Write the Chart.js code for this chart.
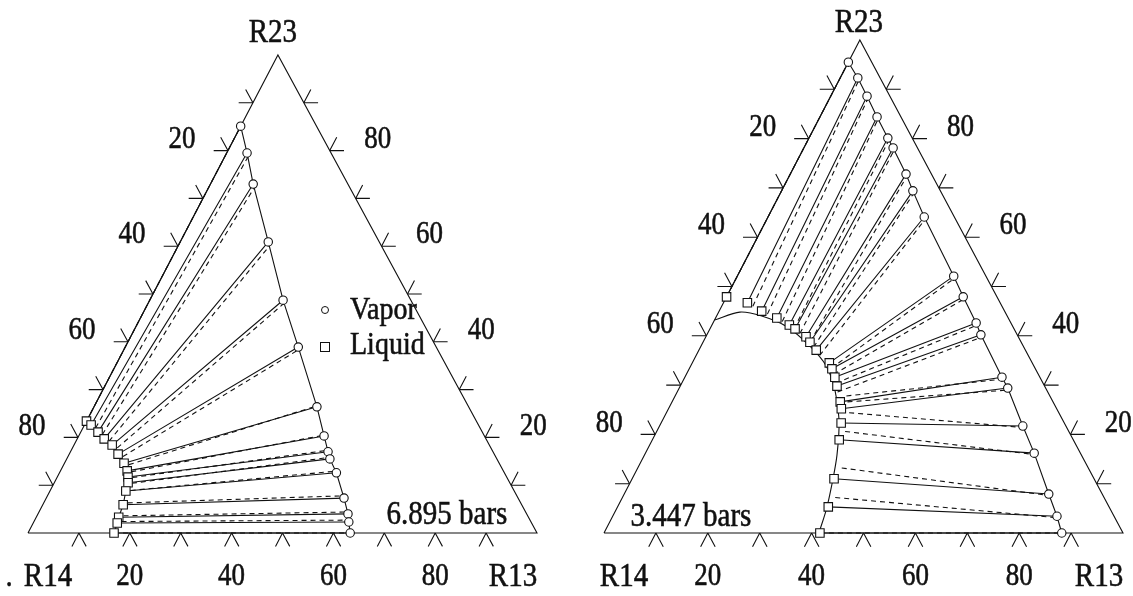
<!DOCTYPE html>
<html>
<head>
<meta charset="utf-8">
<script src="https://cdn.jsdelivr.net/npm/chart.js@4.4.1/dist/chart.umd.min.js"></script>
<style>
  body { margin: 0; background: #fff; }
  .panel { position: absolute; top: 0; height: 596px; }
</style>
</head>
<body>
<div class="panel" style="left:0;width:566px"><canvas id="highP" width="566" height="596"></canvas></div>
<div class="panel" style="left:566px;width:567px"><canvas id="lowP" width="567" height="596"></canvas></div>
<script>
// every composition is [mole % R13, mole % R23]; R14 is the remainder
const tickMarks = [10, 20, 30, 40, 50, 60, 70, 80, 90];
const tickLabels = [20, 40, 60, 80];

// 6.895 bars
const vaporHi = [[0, 85.1], [4.0, 79.5], [8.4, 73.0], [17.3, 60.9], [26.2, 48.7], [34.0, 38.9],
  [43.8, 26.4], [48.2, 20.3], [50.6, 17.0], [51.7, 15.5], [54.4, 12.6], [58.5, 7.3],
  [60.9, 4.0], [61.9, 2.3], [63.3, 0]];
const liquidHi = [[0, 23.4], [1.3, 22.6], [3.4, 21.1], [5.3, 19.7], [7.5, 18.4], [9.6, 16.5],
  [11.7, 14.6], [13.1, 13.0], [13.9, 11.7], [14.5, 10.5], [14.9, 8.8], [15.8, 5.9],
  [16.2, 3.3], [16.5, 2.1], [16.9, 0]];
const vaporHiCalc = [[0, 85.1], [4.6, 79.0], [9.0, 72.4], [18.0, 60.2], [26.8, 48.2], [34.5, 38.5],
  [44.2, 26.8], [48.6, 20.6], [50.9, 17.4], [52.0, 15.9], [54.7, 13.0], [58.7, 7.8],
  [61.1, 4.4], [62.1, 2.7], [63.3, 0]];
const liquidHiCalc = [[0, 23.4], [2.5, 22.0], [4.5, 20.6], [6.5, 19.2], [8.8, 17.8], [10.8, 16.0],
  [12.8, 14.3], [14.0, 12.8], [14.8, 11.6], [15.3, 10.4], [15.8, 8.9], [16.5, 6.3],
  [17.0, 3.6], [17.2, 2.4], [16.9, 0]];

// 3.447 bars
const vaporLo = [[0, 95.5], [3.4, 92.3], [7.0, 88.6], [11.0, 84.4], [15.2, 80.1], [17.2, 78.1],
  [22.3, 72.8], [25.3, 69.4], [30.1, 64.1], [41.7, 52.1], [45.6, 47.9], [50.7, 42.6],
  [52.8, 40.2], [61.1, 31.6], [63.3, 29.4], [70.0, 21.7], [74.9, 16.2], [81.8, 7.9],
  [85.6, 3.4], [88.2, 0]];
const liquidLo = [[0, 47.9], [4.6, 46.7], [8.2, 45.0], [11.8, 43.6], [14.9, 42.2], [16.4, 41.4],
  [19.3, 39.8], [20.6, 38.7], [22.6, 37.1], [26.4, 34.5], [27.5, 33.3], [28.9, 31.6],
  [30.2, 29.8], [32.4, 26.6], [33.3, 25.2], [34.7, 22.3], [36.0, 18.9], [38.9, 11.0],
  [40.6, 5.3], [41.6, 0]];
const vaporLoCalc = [[0, 95.5], [3.8, 92.0], [7.4, 88.3], [11.4, 84.0], [15.6, 79.7], [17.6, 77.7],
  [22.7, 72.4], [25.7, 69.0], [30.5, 63.6], [42.0, 51.6], [45.9, 47.4], [51.0, 42.1],
  [53.1, 39.7], [61.4, 31.2], [63.6, 29.0], [70.2, 21.4], [75.1, 15.9], [82.0, 7.6],
  [85.8, 3.1], [88.2, 0]];
const liquidLoCalc = [[0, 47.9], [6.0, 46.0], [9.6, 44.4], [13.2, 42.9], [16.2, 41.4], [17.8, 40.5],
  [20.6, 38.8], [21.8, 37.7], [23.8, 36.0], [27.3, 33.4], [28.4, 32.2], [29.7, 30.4],
  [30.9, 28.6], [33.0, 27.8], [33.8, 26.6], [35.2, 24.4], [36.3, 20.6], [39.3, 13.2],
  [41.0, 7.2], [41.6, 0]];
const bubbleLo = [[0, 43.2], [4.1, 44.8], [8.7, 44.0], [14.7, 41.8], [21.0, 37.9], [26.1, 33.9],
  [30.2, 29.0], [34.0, 22.9], [37.1, 15.8], [39.1, 9.7], [40.5, 4.7], [41.4, 0]];

const INK = "#111";
const TICK = 2.8; // tick length, in mole %

function drawText(ctx, text, x, y, size, align) {
  ctx.save();
  ctx.translate(x, y);
  ctx.scale(1, 1.15);
  ctx.font = size + "px 'Liberation Serif', 'Times New Roman', serif";
  ctx.textAlign = align || "center";
  ctx.textBaseline = "middle";
  ctx.fillStyle = INK;
  ctx.strokeStyle = INK;
  ctx.lineWidth = 0.5;
  ctx.fillText(text, 0, 0);
  ctx.strokeText(text, 0, 0);
  ctx.restore();
}

function makeTernary(id, cfg) {
  const a = cfg.apex; // where the R23 corner sits along the base
  const xy = p => ({ x: (p[0] + a * p[1]) / 100, y: p[1] / 100 });
  const gap = { x: null, y: null };
  const pairs = (from, to) => from.flatMap((p, i) => [xy(p), xy(to[i]), gap]);

  const ticks = [];
  tickMarks.forEach(v => {
    ticks.push(xy([v, 0]), xy([v, -TICK]), gap, xy([v, 0]), xy([v + TICK, -TICK]), gap);
    ticks.push(xy([0, v]), xy([-TICK, v]), gap, xy([0, v]), xy([-TICK, v + TICK]), gap);
    ticks.push(xy([100 - v, v]), xy([100 - v + TICK, v]), gap, xy([100 - v, v]), xy([100 - v, v + TICK]), gap);
  });

  const line = (data, extra) => Object.assign({
    data, showLine: true, borderColor: INK, borderWidth: 1.1, pointRadius: 0, clip: false, order: 2
  }, extra || {});
  const marker = (data, style, r) => ({
    data, showLine: false, pointStyle: style, pointRadius: r, pointBackgroundColor: "#fff",
    pointBorderColor: INK, pointBorderWidth: 1.1, clip: false, order: 0
  });

  const datasets = [
    line([[0, 0], [100, 0], [0, 100], [0, 0]].map(xy)),
    line(ticks),
    line(pairs(cfg.liquid, cfg.vapor)),
    line(pairs(cfg.liquidCalc, cfg.vaporCalc), { borderDash: [5, 4] }),
    line(cfg.vapor.map(xy)),
    line(cfg.bubble.map(xy), { tension: cfg.tension }),
    marker(cfg.vapor.map(xy), "circle", 4.2),
    marker(cfg.liquid.map(xy), "rect", 6)
  ];

  const labels = {
    id: "ternaryLabels",
    afterDatasetsDraw(chart) {
      const { ctx, scales } = chart;
      const px = p => { const q = xy(p); return [scales.x.getPixelForValue(q.x), scales.y.getPixelForValue(q.y)]; };
      const put = (p, dx, dy, text, size) => { const [x, y] = px(p); drawText(ctx, text, x + dx, y + dy, size || 27); };

      tickLabels.forEach(v => {
        put([v, 0], 0, 44, String(v));          // R13 along the base
        put([0, 100 - v], -46, -11, String(v)); // R14 on the left side
        put([100 - v, v], 48, -11, String(v));  // R23 on the right side
      });
      put([0, 0], 20, 44, "R14", 29);
      put([100, 0], -24, 44, "R13", 29);
      put([0, 100], cfg.topDx, cfg.topDy, "R23", 29);

      const n = cfg.note;
      drawText(ctx, n.text, n.x, n.y, 29);
      (cfg.extra || []).forEach(t => drawText(ctx, t.text, t.x, t.y, 27));

      const lg = cfg.legend;
      if (lg) {
        ctx.save();
        ctx.strokeStyle = INK;
        ctx.lineWidth = 1;
        ctx.beginPath();
        ctx.arc(lg.x, lg.y, 3.5, 0, Math.PI * 2);
        ctx.stroke();
        ctx.strokeRect(lg.x - 4.5, lg.y + lg.dy - 4.5, 9, 9);
        ctx.restore();
        drawText(ctx, "Vapor", lg.x + 25, lg.y + 1, 28, "left");
        drawText(ctx, "Liquid", lg.x + 25, lg.y + lg.dy - 1, 28, "left");
      }
    }
  };

  return new Chart(document.getElementById(id), {
    type: "scatter",
    data: { datasets },
    options: {
      responsive: false,
      animation: false,
      events: [],
      layout: { padding: cfg.padding },
      plugins: { legend: { display: false }, tooltip: { enabled: false } },
      scales: {
        x: { type: "linear", min: 0, max: 1, display: false },
        y: { type: "linear", min: 0, max: 1, display: false }
      }
    },
    plugins: [labels]
  });
}

makeTernary("highP", {
  apex: 0.491,
  padding: { left: 28, right: 29, top: 55, bottom: 63 },
  vapor: vaporHi, liquid: liquidHi, vaporCalc: vaporHiCalc, liquidCalc: liquidHiCalc,
  bubble: liquidHi, tension: 0,
  topDx: -5, topDy: -22,
  note: { text: "6.895 bars", x: 447, y: 515 },
  extra: [{ text: ".", x: 9, y: 578 }],
  legend: { x: 325, y: 310, dy: 37 }
});

makeTernary("lowP", {
  apex: 0.493,
  padding: { left: 38, right: 10, top: 40, bottom: 63 },
  vapor: vaporLo, liquid: liquidLo, vaporCalc: vaporLoCalc, liquidCalc: liquidLoCalc,
  bubble: bubbleLo, tension: 0.3,
  topDx: -1, topDy: -17,
  note: { text: "3.447 bars", x: 125, y: 517 }
});
</script>
</body>
</html>
